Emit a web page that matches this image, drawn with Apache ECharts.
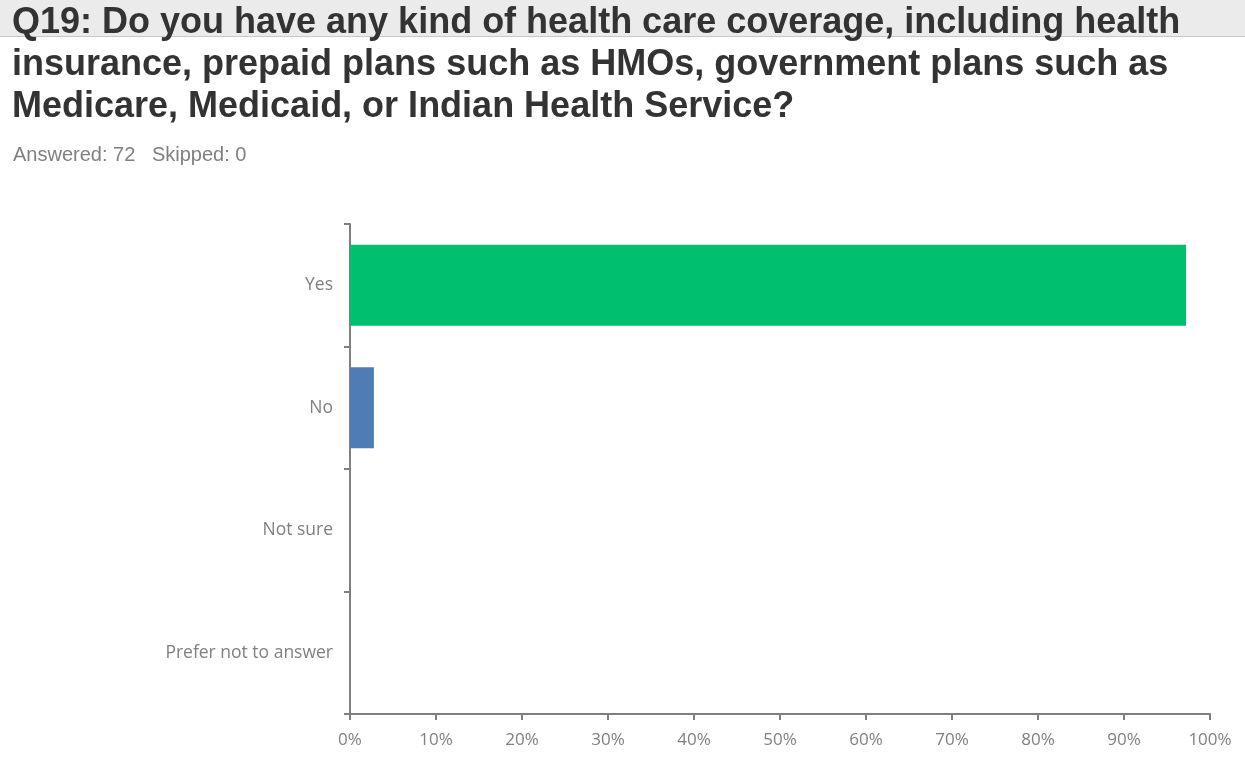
<!DOCTYPE html>
<html><head><meta charset="utf-8">
<script src="https://cdn.jsdelivr.net/npm/echarts@6/dist/echarts.min.js"></script>
<style>html,body{margin:0;padding:0;background:#fff}#c{width:1245px;height:775px}</style>
</head><body><div id="c"></div>
<script>
const categories = ["Yes", "No", "Not sure", "Prefer not to answer"];
const values = [97.22, 2.78, 0, 0];
const barColors = ["#00BF6F", "#507CB6", "#00BF6F", "#00BF6F"];
const xTicks = [0, 10, 20, 30, 40, 50, 60, 70, 80, 90, 100];
const titleText = "Q19: Do you have any kind of health care coverage, including health\ninsurance, prepaid plans such as HMOs, government plans such as\nMedicare, Medicaid, or Indian Health Service?";
const subText = "Answered: 72   Skipped: 0";

const chart = echarts.init(document.getElementById('c'), null, {renderer: 'canvas'});
chart.setOption({
  animation: false,
  backgroundColor: '#fff',
  graphic: [
    {type: 'rect', z: -10, shape: {x: 0, y: 0, width: 1245, height: 36}, style: {fill: '#EBEBEB'}},
    {type: 'line', z: -9, shape: {x1: 0, y1: 36.5, x2: 1245, y2: 36.5}, style: {stroke: '#C8C8C8', lineWidth: 1}}
  ],
  title: [
    {text: titleText, left: 12, top: 2, padding: 0,
     textStyle: {fontFamily: 'Liberation Sans, Arial, sans-serif', fontWeight: 'bold', fontSize: 36, lineHeight: 42, color: '#333333'}},
    {text: subText, left: 13, top: 145, padding: 0,
     textStyle: {fontFamily: 'Liberation Sans, Arial, sans-serif', fontWeight: 'normal', fontSize: 20, color: '#808080'}}
  ],
  grid: {left: 350, right: 35, top: 224, bottom: 61, containLabel: false},
  xAxis: {
    type: 'value', min: 0, max: 100, interval: 10,
    axisLine: {show: true, lineStyle: {color: '#7F7F7F', width: 2}},
    axisTick: {show: true, length: 6, lineStyle: {color: '#7F7F7F', width: 2}},
    splitLine: {show: false},
    axisLabel: {formatter: v => xTicks.includes(v) ? v + '%' : '', margin: 18, color: '#808080', fontSize: 17, fontFamily: 'Open Sans, Noto Sans, sans-serif'}
  },
  yAxis: {
    type: 'category', data: categories, inverse: true,
    axisLine: {show: true, lineStyle: {color: '#7F7F7F', width: 2}},
    axisTick: {show: true, length: 6, lineStyle: {color: '#7F7F7F', width: 2}},
    axisLabel: {margin: 17, color: '#808080', fontSize: 17.5, fontFamily: 'Open Sans, Noto Sans, sans-serif'}
  },
  series: [{
    type: 'bar', barWidth: 81,
    data: values.map((v, i) => ({value: v, itemStyle: {color: barColors[i]}})),
    label: {show: false}
  }]
});
</script></body></html>
